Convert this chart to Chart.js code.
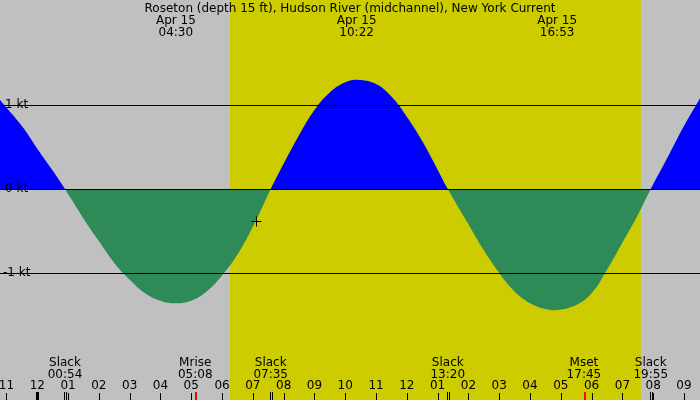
<!DOCTYPE html>
<html>
<head>
<meta charset="utf-8">
<script src="https://cdn.jsdelivr.net/npm/chart.js@4/dist/chart.umd.min.js"></script>
<style>html,body{margin:0;padding:0;background:#c0c0c0}</style>
</head>
<body>
<canvas id="c" width="700" height="400"></canvas>
<script>
// hours from local midnight, Apr 15
const hours = [-1.21,-0.5,0,0.5,0.9,1.5,2,2.5,3,3.5,4,4.5,5,5.5,6,6.5,7,7.58,8,8.5,9,9.5,10,10.37,11,11.5,12,12.5,13,13.33,14,14.5,15,15.5,16,16.5,16.88,17.5,18,18.5,19,19.5,19.92,20.5,21,21.52];
const knots = [1.06,0.75,0.48,0.22,0,-0.35,-0.62,-0.88,-1.08,-1.24,-1.33,-1.36,-1.33,-1.22,-1.03,-0.78,-0.45,0,0.3,0.64,0.94,1.15,1.27,1.3,1.25,1.1,0.86,0.57,0.23,0,-0.42,-0.73,-1.0,-1.22,-1.36,-1.43,-1.44,-1.38,-1.24,-0.96,-0.64,-0.31,0,0.4,0.75,1.08];
const topLabels = [[4.5,'04:30'],[10.37,'10:22'],[16.88,'16:53']];
const events = [[0.9,'Slack','00:54'],[5.13,'Mrise','05:08'],[7.58,'Slack','07:35'],[13.33,'Slack','13:20'],[17.75,'Mset','17:45'],[19.92,'Slack','19:55']];
const sunrise = 6.26, sunset = 19.6;
const nowMark = [7.1, -0.38];
const hourLabels = ['11','12','01','02','03','04','05','06','07','08','09','10','11','12','01','02','03','04','05','06','07','08','09'];
const firstHour = -1;

const deco = {
  id: 'deco',
  beforeDatasetsDraw(ch) {
    const c = ch.ctx, x = ch.scales.x;
    c.save();
    c.fillStyle = '#cccc00';
    c.fillRect(x.getPixelForValue(sunrise), 0, x.getPixelForValue(sunset) - x.getPixelForValue(sunrise), 400);
    c.restore();
  },
  afterDatasetsDraw(ch) {
    const c = ch.ctx, x = ch.scales.x, y = ch.scales.y;
    c.save();
    c.strokeStyle = '#000'; c.lineWidth = 1;
    [1, 0, -1].forEach(v => {
      const py = Math.round(y.getPixelForValue(v)) + 0.5;
      c.beginPath(); c.moveTo(0, py); c.lineTo(700, py); c.stroke();
    });
    c.font = '12px "DejaVu Sans", sans-serif';
    c.fillStyle = '#000';
    c.textBaseline = 'middle'; c.textAlign = 'left';
    c.fillText('1 kt', 5, y.getPixelForValue(1));
    c.fillText('0 kt', 5, y.getPixelForValue(0));
    c.fillText('-1 kt', 3, y.getPixelForValue(-1));
    c.textAlign = 'center'; c.textBaseline = 'alphabetic';
    c.fillText('Roseton (depth 15 ft), Hudson River (midchannel), New York Current', 350, 12);
    topLabels.forEach(([h, t]) => {
      const px = x.getPixelForValue(h);
      c.fillText('Apr 15', px, 24);
      c.fillText(t, px, 36);
    });
    events.forEach(([h, a, b]) => {
      const px = x.getPixelForValue(h);
      c.fillText(a, px, 366);
      c.fillText(b, px, 378);
    });
    hourLabels.forEach((t, i) => {
      const px = x.getPixelForValue(firstHour + i);
      c.fillText(t, px, 389);
      c.fillRect(Math.round(px), 393, 1, 7);
    });
    c.fillRect(Math.round(x.getPixelForValue(0)) - 1, 392, 3, 8);
    events.forEach(([h, a]) => {
      const px = Math.round(x.getPixelForValue(h));
      if (a === 'Slack') { c.fillStyle = '#000'; c.fillRect(px - 1, 392, 1, 8); c.fillRect(px + 1, 392, 1, 8); }
      else { c.fillStyle = '#ff0000'; c.fillRect(px, 392, 2, 8); }
    });
    c.strokeStyle = '#000';
    const mx = Math.round(x.getPixelForValue(nowMark[0])) + 0.5, my = Math.round(y.getPixelForValue(nowMark[1])) + 0.5;
    c.beginPath(); c.moveTo(mx - 5, my); c.lineTo(mx + 5, my); c.moveTo(mx, my - 5); c.lineTo(mx, my + 5); c.stroke();
    c.restore();
  }
};

new Chart(document.getElementById('c'), {
  type: 'line',
  data: {
    datasets: [{
      data: hours.map((h, i) => ({ x: h, y: knots[i] })),
      borderWidth: 0,
      pointRadius: 0,
      tension: 0.4,
      fill: { target: 'origin', above: '#0000ff', below: '#2e8b57' }
    }]
  },
  options: {
    responsive: false,
    animation: false,
    layout: { padding: 0 },
    plugins: { legend: { display: false }, tooltip: { enabled: false } },
    scales: {
      x: { type: 'linear', display: false, min: -1.21, max: 21.52 },
      y: { display: false, min: -2.512, max: 2.25 }
    }
  },
  plugins: [deco]
});
</script>
</body>
</html>
